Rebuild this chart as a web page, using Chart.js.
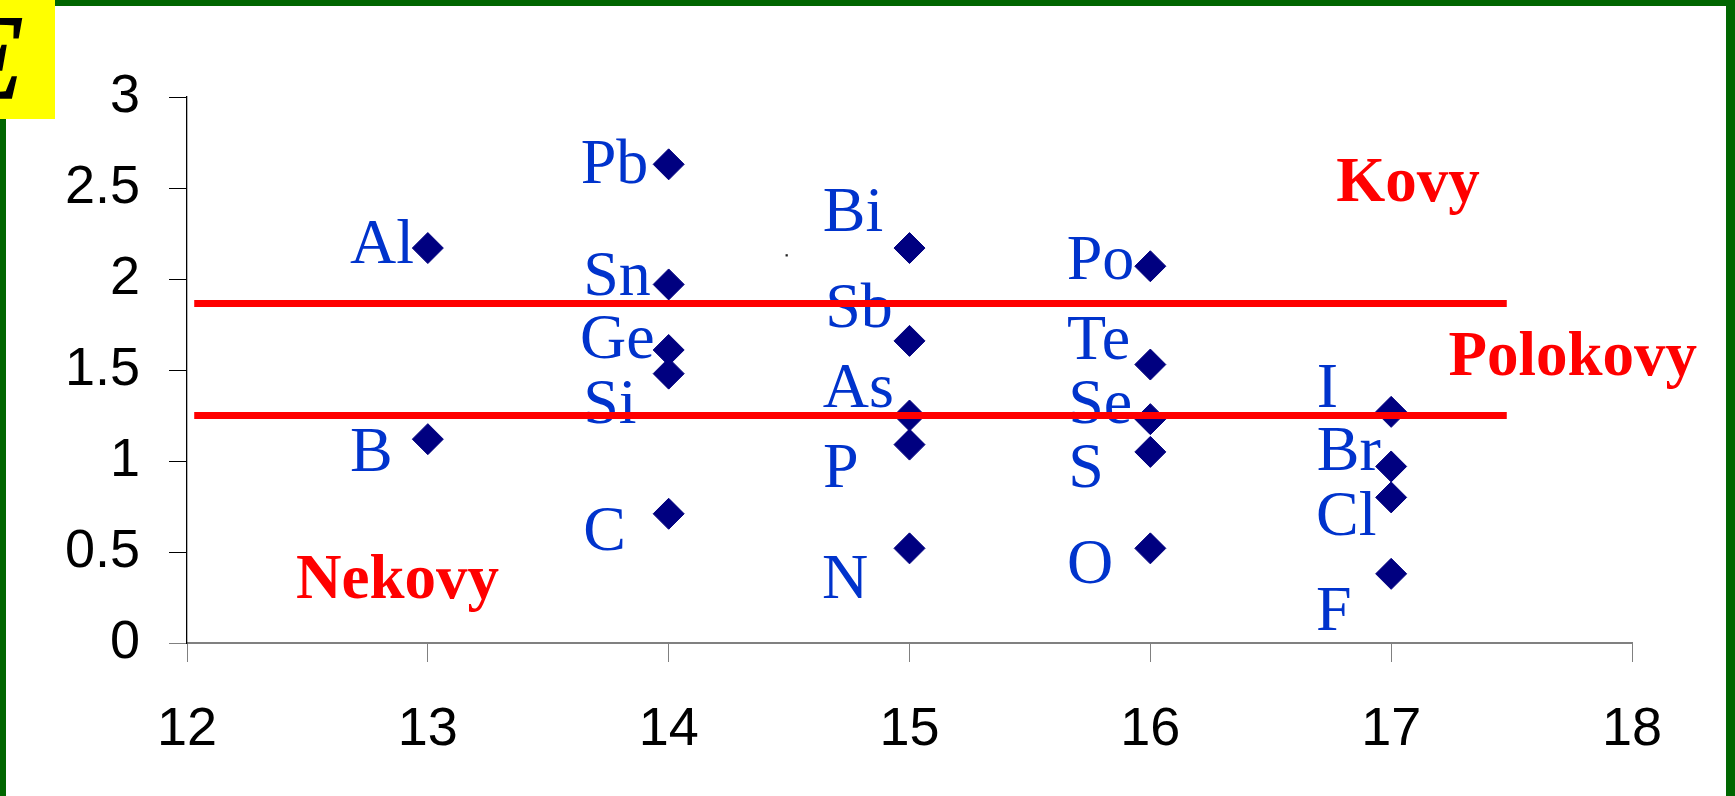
<!DOCTYPE html>
<html>
<head>
<meta charset="utf-8">
<script src="https://cdn.jsdelivr.net/npm/chart.js@4.4.1/dist/chart.umd.min.js"></script>
<style>
  html, body { margin: 0; padding: 0; background: #fff; }
  #wrap { position: relative; width: 1735px; height: 796px; background: #fff; overflow: hidden; }
  #c { position: absolute; left: 0; top: 0; }
  .bd { position: absolute; background: #006600; }
  #badge { position: absolute; left: 0; top: 0; width: 55px; height: 119px; background: #ffff00; overflow: hidden; }
  #badge span { position: absolute; left: -50px; top: -2px; font: italic 120px "Liberation Serif", serif; color: #000; line-height: 1; -webkit-text-stroke: 1.5px #000; }
</style>
</head>
<body>
<div id="wrap">
  <canvas id="c" width="1735" height="796"></canvas>
  <div class="bd" style="left:0;top:0;width:1735px;height:6px"></div>
  <div class="bd" style="left:0;top:0;width:6px;height:796px"></div>
  <div class="bd" style="left:1726px;top:0;width:9px;height:796px"></div>
  <div id="badge"><span>E</span></div>
</div>
<script>
  "use strict";

  // prvky a jejich skupiny
  var elements = ["Al", "B", "Pb", "Sn", "Ge", "Si", "C", "Bi", "Sb", "As", "P", "N",
                  "Po", "Te", "Se", "S", "O", "I", "Br", "Cl", "F"];
  var groups = [13, 13, 14, 14, 14, 14, 14, 15, 15, 15, 15, 15,
                16, 16, 16, 16, 16, 17, 17, 17, 17];
  var values = [2.17, 1.12, 2.63, 1.97, 1.61, 1.48, 0.71, 2.17, 1.66, 1.25, 1.09, 0.52,
                2.07, 1.53, 1.23, 1.05, 0.52, 1.27, 0.97, 0.80, 0.38];

  // kde stoji popisky (v jednotkach os)
  var labelX = [12.677, 12.677, 13.635, 13.645, 13.632, 13.645, 13.645,
                14.640, 14.650, 14.640, 14.641, 14.637,
                15.653, 15.654, 15.659, 15.659, 15.654,
                16.691, 16.691, 16.688, 16.688];
  var labelY = [2.086, 0.947, 2.526, 1.912, 1.568, 1.210, 0.511,
                2.264, 1.738, 1.295, 0.859, 0.246,
                2.000, 1.560, 1.210, 0.855, 0.328,
                1.298, 0.951, 0.593, 0.071];

  // hranice kovy / polokovy / nekovy
  var boundaryValues = [1.865, 1.25];
  var boundaryFrom = 12.03, boundaryTo = 17.48;
  var regionNames = ["Kovy", "Polokovy", "Nekovy"];
  var regionX = [16.772, 17.238, 12.453];
  var regionY = [2.430, 1.473, 0.250];

  // drobna tecka v grafu
  var strayPoint = [{ x: 14.49, y: 2.13 }];

  var xTicks = [12, 13, 14, 15, 16, 17, 18];
  var yTicks = ["0", "0.5", "1", "1.5", "2", "2.5", "3"];

  var pts = groups.map(function (g, i) { return { x: g, y: values[i] }; });
  var datasets = boundaryValues.map(function (v) {
    return {
      type: "line", data: [{ x: boundaryFrom, y: v }, { x: boundaryTo, y: v }],
      borderColor: "#ff0000", borderWidth: 7, pointRadius: 0, showLine: true, order: 0
    };
  });
  datasets.push({
    data: pts, pointStyle: "rectRot", pointRadius: 15.5,
    backgroundColor: "#000080", borderColor: "#000080", borderWidth: 1, order: 1
  });
  datasets.push({
    data: strayPoint, pointStyle: "rect", pointRadius: 1.6,
    backgroundColor: "#222", borderColor: "#222", borderWidth: 0, order: 1
  });

  var labelPlugin = {
    id: "elLabels",
    beforeDatasetsDraw: function (chart) {
      var ctx = chart.ctx, sx = chart.scales.x, sy = chart.scales.y;
      ctx.save();
      ctx.textAlign = "left";
      ctx.textBaseline = "alphabetic";
      ctx.fillStyle = "#0033cc";
      ctx.font = "64px 'Liberation Serif', serif";
      elements.forEach(function (el, i) {
        ctx.fillText(el, sx.getPixelForValue(labelX[i]), sy.getPixelForValue(labelY[i]));
      });
      ctx.fillStyle = "#ff0000";
      ctx.font = "bold 63px 'Liberation Serif', serif";
      regionNames.forEach(function (n, i) {
        ctx.fillText(n, sx.getPixelForValue(regionX[i]), sy.getPixelForValue(regionY[i]));
      });
      ctx.restore();
    }
  };

  new Chart(document.getElementById("c"), {
    type: "scatter",
    data: { datasets: datasets },
    plugins: [labelPlugin],
    options: {
      responsive: false,
      animation: false,
      devicePixelRatio: 1,
      layout: { padding: { left: 67, right: 103, top: 97, bottom: 13 } },
      plugins: { legend: { display: false }, tooltip: { enabled: false } },
      scales: {
        x: {
          type: "linear", min: 12, max: 18,
          afterFit: function (s) { s.height = 140; },
          afterBuildTicks: function (s) { s.ticks = xTicks.map(function (v) { return { value: v }; }); },
          border: { display: true, color: "#808080", width: 2 },
          grid: { drawOnChartArea: false, drawTicks: true, tickLength: 19, color: "#808080", lineWidth: 1 },
          ticks: { color: "#000", padding: 36, font: { family: "'Liberation Sans', Arial, sans-serif", size: 54 } }
        },
        y: {
          type: "linear", min: 0, max: 3,
          afterFit: function (s) { s.width = 120; },
          afterBuildTicks: function (s) { s.ticks = yTicks.map(function (t) { return { value: parseFloat(t) }; }); },
          border: { display: true, color: "#000", width: 1.3 },
          grid: {
            drawOnChartArea: false, drawTicks: true, tickLength: 18, lineWidth: 1,
            color: function (c) { return c.tick && c.tick.value === 0 ? "#808080" : "#000"; }
          },
          ticks: {
            color: "#000", padding: 29,
            font: { family: "'Liberation Sans', Arial, sans-serif", size: 54 },
            callback: function (v) { return yTicks[Math.round(v * 2)]; }
          }
        }
      }
    }
  });
</script>
</body>
</html>
